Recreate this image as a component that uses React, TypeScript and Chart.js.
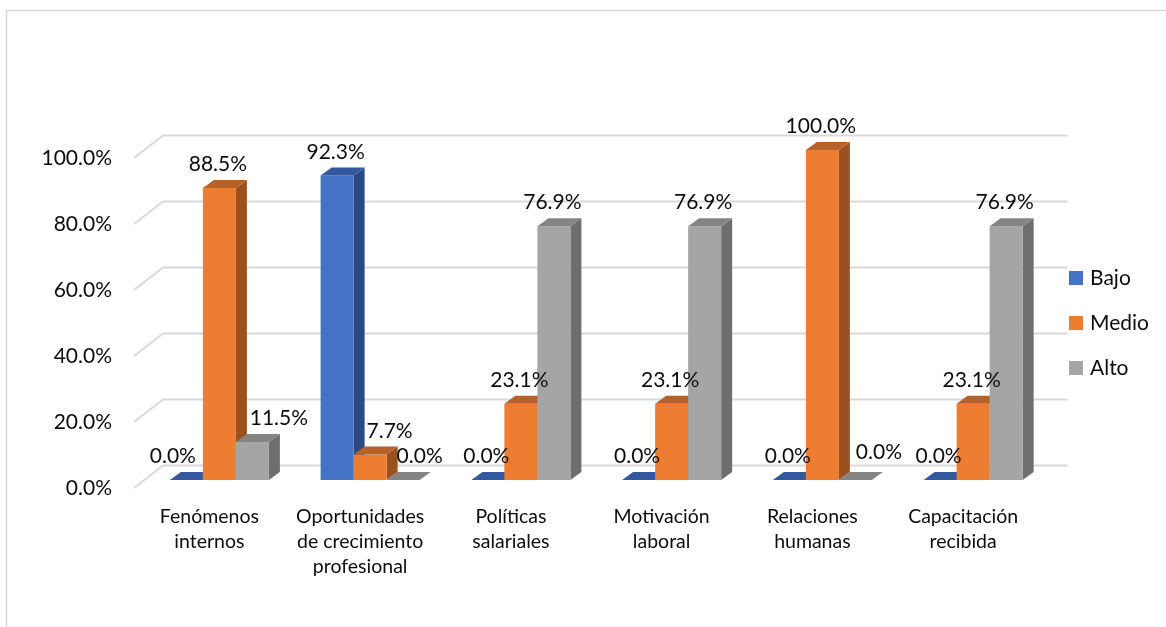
import React, { useEffect, useRef } from 'react';
import { Chart, registerables } from 'chart.js';

Chart.register(...registerables);

// ---- data ----
const categories: string[][] = [
  ['Fenómenos', 'internos'],
  ['Oportunidades', 'de crecimiento', 'profesional'],
  ['Políticas', 'salariales'],
  ['Motivación', 'laboral'],
  ['Relaciones', 'humanas'],
  ['Capacitación', 'recibida'],
];
const seriesNames = ['Bajo', 'Medio', 'Alto'];
const bajo = [0, 92.3, 0, 0, 0, 0];
const medio = [88.5, 7.7, 23.1, 23.1, 100, 23.1];
const alto = [11.5, 0, 76.9, 76.9, 0, 76.9];
const yTicks = [0, 20, 40, 60, 80, 100];

// ---- style ----
const FRONT = ['#4472C4', '#ED7D31', '#A5A5A5'];
const TOP = ['#34589F', '#B5622A', '#848484'];
const SIDE = ['#2B4A85', '#9B511F', '#6E6E6E'];
const FRONT_OFF = { dx: 10, dy: -8 }; // bars' front plane relative to floor front
const BAR_DEPTH = { dx: 11, dy: -8 };
const WALL = { dx: 29, dy: -22.5 };
const FONT = 'Lato';
const TEXT = '#0d0d0d';
// label nudges mimicking the original's placement: [dataset, category, dx, dy]
const LABEL_NUDGES: [number, number, number, number][] = [
  [0, 0, -12, 0],
  [2, 0, 28, 0],
  [1, 1, 21, 0],
  [2, 1, 18, 0],
  [2, 4, 25, -4],
];

const fmt = (v: number) => v.toFixed(1) + '%';

const threeD = {
  id: 'threeD',
  beforeDatasetsDraw(chart: any) {
    const { ctx, chartArea } = chart;
    const ys = chart.scales.y;
    ctx.save();
    // walls / gridlines
    ctx.strokeStyle = '#d9d9d9';
    ctx.lineWidth = 2;
    ctx.lineJoin = 'round';
    for (const t of yTicks) {
      const py = ys.getPixelForValue(t);
      ctx.beginPath();
      ctx.moveTo(chartArea.left, py);
      ctx.lineTo(chartArea.left + WALL.dx, py + WALL.dy);
      ctx.lineTo(chartArea.right + WALL.dx, py + WALL.dy);
      ctx.stroke();
    }
    const poly = (pts: number[][], color: string) => {
      ctx.fillStyle = color;
      ctx.beginPath();
      ctx.moveTo(pts[0][0], pts[0][1]);
      for (let k = 1; k < pts.length; k++) ctx.lineTo(pts[k][0], pts[k][1]);
      ctx.closePath();
      ctx.fill();
    };
    const n = chart.data.labels.length;
    const nd = chart.data.datasets.length;
    for (let i = 0; i < n; i++) {
      for (let d = 0; d < nd; d++) {
        const el: any = chart.getDatasetMeta(d).data[i];
        const x0 = el.x - el.width / 2 + FRONT_OFF.dx;
        const x1 = el.x + el.width / 2 + FRONT_OFF.dx;
        const yt = el.y + FRONT_OFF.dy;
        const yb = el.base + FRONT_OFF.dy;
        if (yb - yt > 0.5) {
          poly([[x1, yt], [x1 + BAR_DEPTH.dx, yt + BAR_DEPTH.dy], [x1 + BAR_DEPTH.dx, yb + BAR_DEPTH.dy], [x1, yb]], SIDE[d]);
          ctx.fillStyle = FRONT[d];
          ctx.fillRect(x0, yt, x1 - x0, yb - yt);
        }
        poly([[x0, yt], [x0 + BAR_DEPTH.dx, yt + BAR_DEPTH.dy], [x1 + BAR_DEPTH.dx, yt + BAR_DEPTH.dy], [x1, yt]], TOP[d]);
      }
    }
    // value labels
    ctx.font = `21px ${FONT}`;
    ctx.fillStyle = TEXT;
    ctx.textAlign = 'center';
    ctx.textBaseline = 'middle';
    for (let d = 0; d < nd; d++) {
      const ds = chart.data.datasets[d];
      chart.getDatasetMeta(d).data.forEach((el: any, i: number) => {
        const nudge = LABEL_NUDGES.find((q) => q[0] === d && q[1] === i);
        const x = el.x + FRONT_OFF.dx - 1.5 + (nudge ? nudge[2] : 0);
        const y = el.y + FRONT_OFF.dy - 23.5 + (nudge ? nudge[3] : 0);
        ctx.fillText(fmt(ds.data[i]), x, y);
      });
    }
    ctx.restore();
    return false;
  },
  afterDraw(chart: any) {
    const { ctx, chartArea } = chart;
    ctx.save();
    // outer chart border
    ctx.strokeStyle = '#d9d9d9';
    ctx.lineWidth = 1.5;
    ctx.strokeRect(6.5, 10.5, 1400, 900);
    // legend
    const mid = (chartArea.top + chartArea.bottom) / 2;
    const lx = chartArea.right + 30.5;
    ctx.font = `21px ${FONT}`;
    ctx.textAlign = 'left';
    ctx.textBaseline = 'middle';
    chart.data.datasets.forEach((ds: any, d: number) => {
      const cy = mid + (d - 1) * 45;
      ctx.fillStyle = ds.backgroundColor;
      ctx.fillRect(lx, cy - 7, 14, 14);
      ctx.fillStyle = TEXT;
      ctx.fillText(ds.label, lx + 21, cy);
    });
    ctx.restore();
  },
};

export default function App() {
  const ref = useRef<HTMLCanvasElement | null>(null);
  useEffect(() => {
    document.body.style.margin = '0';
    document.body.style.overflow = 'hidden';
    const canvas = ref.current!;
    const series = [bajo, medio, alto];
    const chart = new Chart(canvas, {
      type: 'bar',
      data: {
        labels: categories,
        datasets: series.map((s, d) => ({
          label: seriesNames[d],
          data: s,
          backgroundColor: FRONT[d],
          categoryPercentage: 0.657,
          barPercentage: 1,
        })),
      },
      options: {
        responsive: false,
        animation: false,
        devicePixelRatio: 1,
        layout: { padding: { left: 0, top: 158, right: 127.5, bottom: 39 } },
        plugins: { legend: { display: false }, tooltip: { enabled: false } },
        scales: {
          x: {
            grid: { display: false, drawTicks: false },
            border: { display: false },
            ticks: {
              color: TEXT,
              font: { family: FONT, size: 19.5, lineHeight: '25px' } as any,
              padding: 16,
              maxRotation: 0,
              autoSkip: false,
            },
            afterFit: (s: any) => { s.height = 100; },
          },
          y: {
            min: 0,
            max: 100,
            grid: { display: false, drawTicks: false },
            border: { display: false },
            ticks: {
              stepSize: 20,
              color: TEXT,
              font: { family: FONT, size: 21 },
              padding: 22,
              callback: (v: any) => fmt(Number(v)),
            },
            afterFit: (s: any) => { s.width = 134; },
          },
        },
      },
      plugins: [threeD],
    });
    return () => chart.destroy();
  }, []);
  return <canvas ref={ref} width={1166} height={627} style={{ display: 'block' }} />;
}
